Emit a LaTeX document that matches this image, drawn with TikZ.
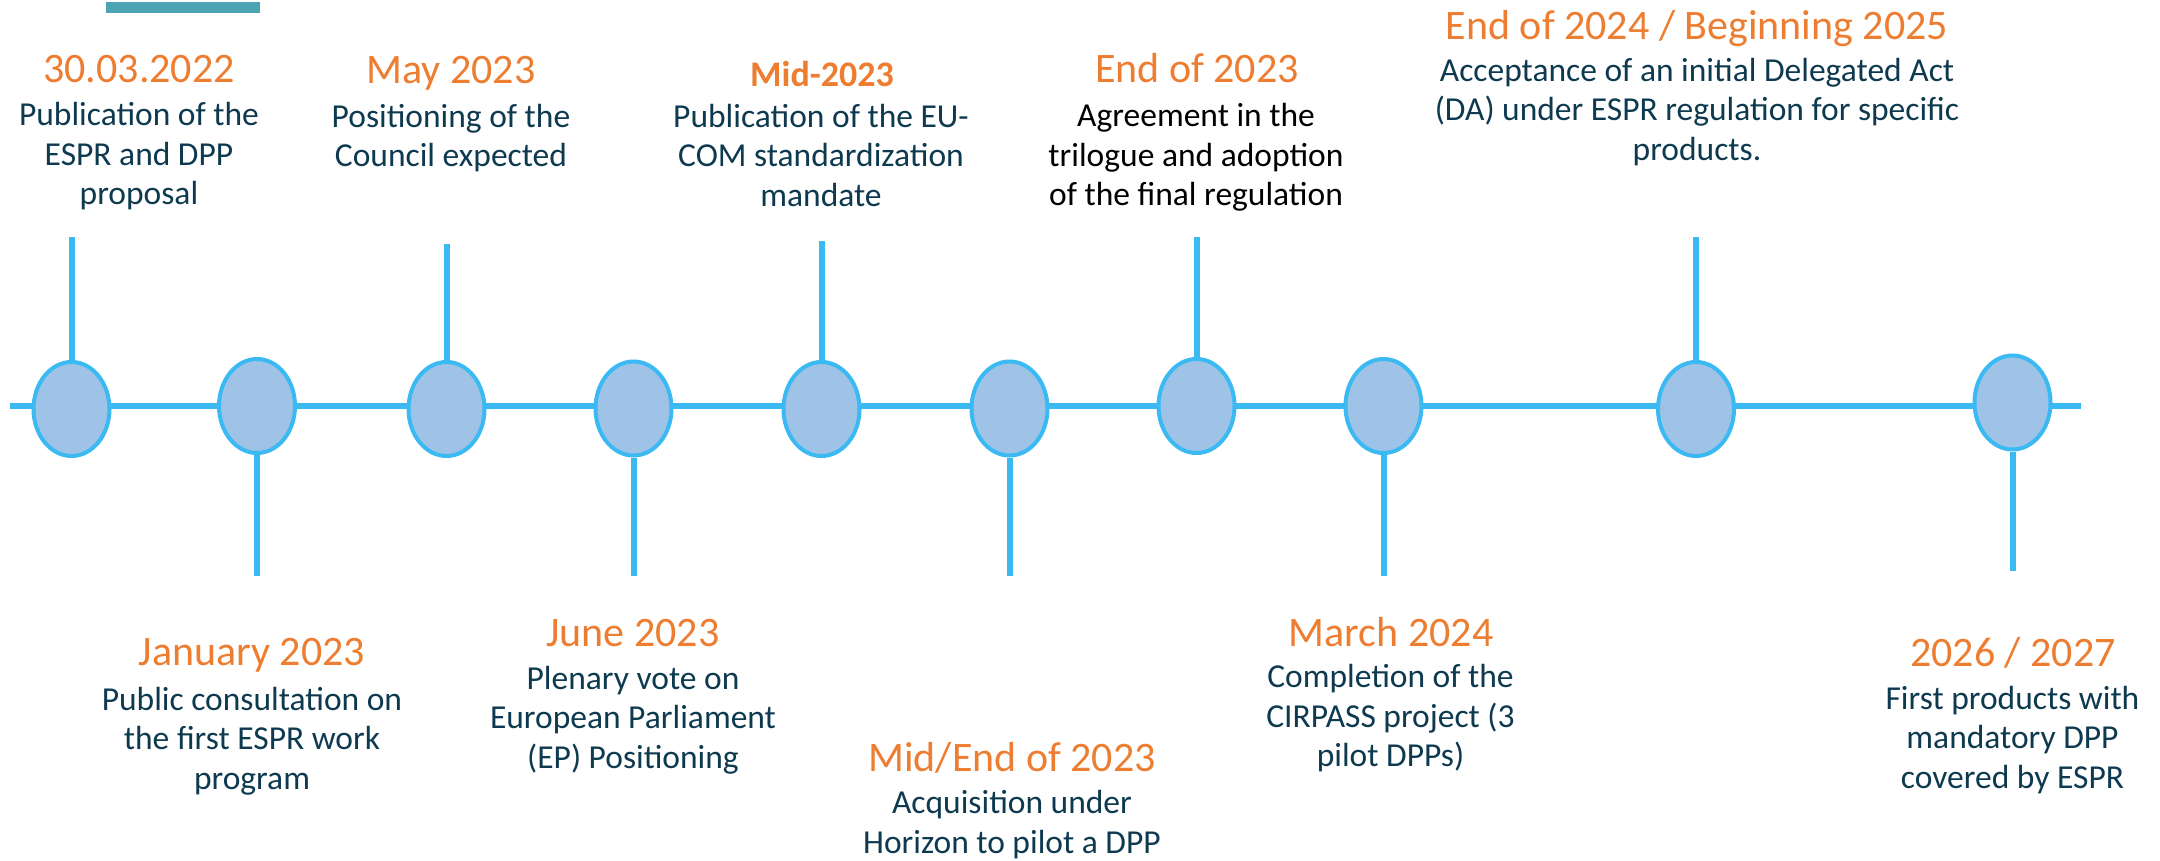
\documentclass[tikz,border=0pt]{standalone}
\usepackage{fontspec}
\setmainfont{Carlito}
\usetikzlibrary{shapes.geometric}

\definecolor{lineblue}{RGB}{58,185,242}
\definecolor{dotfill}{RGB}{158,195,230}
\definecolor{datecol}{RGB}{237,125,49}
\definecolor{textcol}{RGB}{14,58,80}
\definecolor{barcol}{RGB}{75,163,180}

\begin{document}
\begin{tikzpicture}[x=1pt, y=-1pt,
	dot/.style={shape=ellipse, draw=lineblue, fill=dotfill, line width=4pt,
	minimum width=76pt, minimum height=94pt, inner sep=0pt},
	stem/.style={draw=lineblue, line width=6pt},
	date/.style={anchor=base, text=datecol, inner sep=0pt,
	font=\fontsize{42}{50}\selectfont},
	info/.style={anchor=base, text=textcol, align=center, inner sep=0pt,
	font=\fontsize{33.5}{39.5}\selectfont}]
	\useasboundingbox (0,0) rectangle (2160,861);

	% Bar in the top left corner
	\fill[barcol] (106,2) rectangle (260,13);

	% Time line
	\coordinate (L0) at (10,406);
	\coordinate (L1) at (2081,406);
	\draw[stem, line width=6.7pt] (L0) -- (L1);

	% Events on the line
	\node[dot] (E1) at (71.5,409){};
	\node[dot] (E2) at (257,406){};
	\node[dot] (E3) at (446.5,409){};
	\node[dot] (E4) at (633.5,408.5){};
	\node[dot] (E5) at (821.5,409){};
	\node[dot] (E6) at (1009.5,408.5){};
	\node[dot] (E7) at (1196.5,406){};
	\node[dot] (E8) at (1383.5,406){};
	\node[dot] (E9) at (1696,409){};
	\node[dot] (E10) at (2012.5,402.5){};

	% Stems, up and down in turn
	\coordinate (S1) at (71.5,237);
	\coordinate (S2) at (257,576);
	\coordinate (S3) at (446.5,244);
	\coordinate (S4) at (633.5,576);
	\coordinate (S5) at (821.5,241);
	\coordinate (S6) at (1009.5,576);
	\coordinate (S7) at (1196.5,237);
	\coordinate (S8) at (1383.5,576);
	\coordinate (S9) at (1696,237);
	\coordinate (S10) at (2012.5,571);
	\draw[stem] (E1) -- (S1);
	\draw[stem] (E2) -- (S2);
	\draw[stem] (E3) -- (S3);
	\draw[stem] (E4) -- (S4);
	\draw[stem] (E5) -- (S5);
	\draw[stem] (E6) -- (S6);
	\draw[stem] (E7) -- (S7);
	\draw[stem] (E8) -- (S8);
	\draw[stem] (E9) -- (S9);
	\draw[stem] (E10) -- (S10);

	% Texts above the line (info nodes sit on their last line)
	\node[date] (D1) at (139,83){30.03.2022};
	\node[info] (T1) at (139,205){Publication of the\\ESPR and DPP\\proposal};
	\node[date] (D2) at (451,84){May 2023};
	\node[info] (T2) at (451,167){Positioning of the\\Council expected};
	\node[date, font=\fontsize{36}{42}\selectfont\bfseries] (D3) at (822,86.5){Mid-2023};
	\node[info] (T3) at (821,206.5){Publication of the EU-\\COM standardization\\mandate};
	\node[date] (D4) at (1197,82.7){End of 2023};
	\node[info, text=black] (T4) at (1196,205.7){Agreement in the\\trilogue and adoption\\of the final regulation};
	\node[date] (D5) at (1697,39.3){End of 2024 / Beginning 2025};
	\node[info] (T5) at (1697,160.5){Acceptance of an initial Delegated Act\\(DA) under ESPR regulation for specific\\products.};

	% Texts below the line
	\node[date] (D6) at (252,665){January 2023};
	\node[info] (T6) at (252,789){Public consultation on\\the first ESPR work\\program};
	\node[date] (D7) at (633,646){June 2023};
	\node[info] (T7) at (633,768.3){Plenary vote on\\European Parliament\\(EP) Positioning};
	\node[date] (D8) at (1012,771){Mid/End of 2023};
	\node[info] (T8) at (1012,853.3){Acquisition under\\Horizon to pilot a DPP};
	\node[date] (D9) at (1391,646){March 2024};
	\node[info] (T9) at (1390.5,766.7){Completion of the\\CIRPASS project (3\\pilot DPPs)};
	\node[date] (D10) at (2013,666){2026 / 2027};
	\node[info] (T10) at (2012.5,788.3){First products with\\mandatory DPP\\covered by ESPR};
\end{tikzpicture}
\end{document}
